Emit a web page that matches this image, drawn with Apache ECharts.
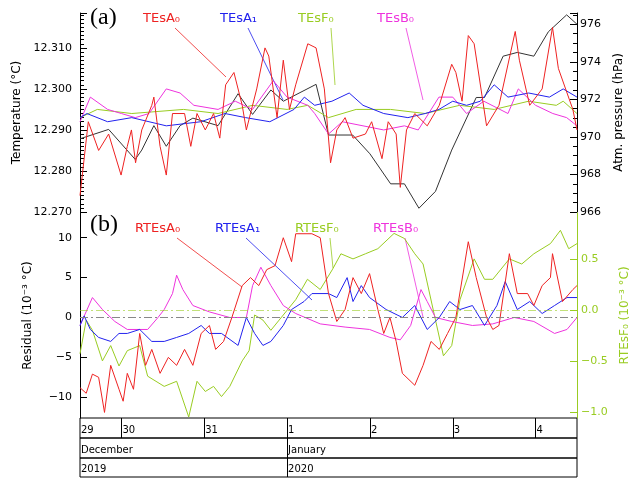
<!DOCTYPE html>
<html>
<head>
<meta charset="utf-8">
<script src="https://cdn.jsdelivr.net/npm/echarts@6/dist/echarts.min.js"></script>
<style>html,body{margin:0;padding:0;background:#fff}#main{width:644px;height:480px}</style>
</head>
<body>
<div id="main"></div>
<script>
// time in hours from 29 Dec 2019 12:00
const dayTicks = [12, 36, 60, 84, 108, 132];
const dayLabels = ['30', '31', '1', '2', '3', '4'];
const monthTicks = [0, 60];
const monthLabels = ['December', 'January'];
const yearLabels = ['2019', '2020'];

// panel (a), temperature (°C)
const tesA0 = [[0,12.274],[2.4,12.292],[5.4,12.285],[8.3,12.289],[11.9,12.279],[13.7,12.286],[14.9,12.290],[16.1,12.282],[17.9,12.290],[20.8,12.296],[21.4,12.298],[23.2,12.286],[25,12.279],[26.8,12.294],[30.3,12.294],[32.1,12.286],[33.9,12.294],[36.3,12.290],[38.7,12.294],[40.5,12.288],[42.2,12.301],[44.6,12.304],[47,12.296],[48.2,12.290],[51.2,12.300],[53.6,12.310],[54.7,12.308],[57.1,12.293],[58.9,12.307],[60.7,12.295],[62.5,12.301],[66,12.311],[68.4,12.310],[70.8,12.300],[72.6,12.282],[74.4,12.290],[76.8,12.293],[79.1,12.288],[82.7,12.289],[84.5,12.292],[87.5,12.283],[89.3,12.292],[91.6,12.289],[92.8,12.276],[94.6,12.290],[97,12.294],[100.6,12.291],[104.1,12.296],[107.7,12.306],[108.9,12.304],[110.7,12.297],[112.5,12.313],[114.2,12.311],[117.8,12.291],[121.4,12.296],[126.1,12.314],[127.3,12.307],[130.3,12.296],[133.9,12.300],[136.9,12.315],[138.6,12.305],[142.8,12.295],[144,12.290]];
const tesA1 = [[0,12.293],[2,12.294],[8,12.292],[15,12.293],[25,12.291],[35,12.292],[42,12.294],[48,12.293],[55,12.292],[62,12.295],[65,12.298],[68,12.296],[73,12.297],[78,12.299],[82,12.296],[88,12.294],[95,12.293],[100,12.294],[104,12.295],[108,12.297],[112,12.296],[116,12.297],[120,12.301],[124,12.298],[130,12.299],[136,12.298],[140,12.300],[144,12.298]];
const tesF0 = [[0,12.293],[5,12.295],[15,12.294],[30,12.295],[40,12.294],[50,12.296],[60,12.295],[66,12.296],[72,12.293],[80,12.295],[90,12.295],[100,12.294],[110,12.296],[120,12.295],[130,12.297],[138,12.296],[140,12.297],[144,12.294]];
const tesB0 = [[0,12.292],[3,12.298],[8,12.295],[12,12.294],[16,12.293],[20,12.294],[25,12.300],[29,12.299],[33,12.296],[40,12.295],[45,12.297],[50,12.295],[56,12.302],[60,12.298],[66,12.296],[68,12.294],[72,12.289],[76,12.292],[82,12.291],[88,12.290],[94,12.291],[98,12.290],[104,12.298],[108,12.298],[112,12.294],[117,12.297],[124,12.294],[127,12.300],[132,12.296],[137,12.294],[141,12.293],[144,12.291]];
// atmospheric pressure (hPa)
const pressure = [[0,969.9],[8.3,970.4],[16,968.8],[17.9,969.3],[21.4,970.6],[25,969.5],[29,970.6],[32.7,971.0],[40,970.6],[45.8,972.3],[50,971.2],[55.3,972.5],[58.9,971.9],[68.4,972.8],[72,970.1],[79,970.1],[84,969.1],[90,967.5],[94,967.5],[98.2,966.2],[103,967.1],[107.7,969.3],[114.8,972.1],[117.2,972.1],[122.6,974.3],[126.7,974.5],[131.5,974.3],[135.7,975.6],[141,976.5],[144,976.0]];

// panel (b), residuals (10^-3 °C)
const rtesA0 = [[0,-8.8],[1.8,-9.5],[3.6,-7.1],[5.4,-7.5],[7.1,-11.9],[8.9,-6],[11.3,-9],[12.5,-10.5],[13.7,-7],[15.5,-9],[17.3,-2],[19,-6],[20.8,-4],[23.2,-7],[25.6,-5],[28,-6],[30.3,-4],[32.7,-6],[35.1,-2],[37.5,-1],[39.3,-4],[41.6,-3],[44,0],[47,4],[49.4,5],[51.8,4],[54.1,6],[56.5,6.5],[58.9,10],[61.3,7],[62.5,10.5],[67.2,10.5],[69.6,10],[72,3],[74.4,-0.5],[76.8,1],[79.1,5],[81.5,3],[83.9,5.5],[86.3,1],[88,-2],[89.8,0],[91.6,-3],[93.4,-7],[97,-8.5],[99.4,-6],[101.7,-3],[104.1,-4],[106.5,-2],[108.9,0],[112.5,9.5],[114.8,5],[117.8,0],[119.6,-1.5],[121.4,-1],[124.4,8],[126.7,3],[129.7,3],[131.5,1.5],[133.9,4],[136.3,5],[136.9,8],[139.8,2],[142.8,3.5],[144,4]];
const rtesA1 = [[0,-1],[1.2,0.2],[3,-1.5],[5.4,-2.5],[8.9,-3],[11.3,-2],[13.7,-2],[17.3,-1.5],[20.8,-3],[24.4,-3],[28,-2.5],[31.5,-2],[35.1,-1],[37.5,-2],[41,-2],[45.8,-3.5],[48.2,0],[50.6,-2],[53,-3.5],[55.3,-3],[58.9,-1],[61.3,1],[64.9,2],[67.2,3],[72,3],[74.4,2.5],[77.4,5],[79.1,2],[81.5,4],[83.9,2.5],[88.7,1],[93.4,0],[97,1.5],[100.6,-1.5],[104.1,0],[107.1,2],[110.1,1],[113.7,1.5],[117.2,-1],[120.8,1.5],[123.2,4.5],[126.7,1],[130.3,2],[133.9,0.5],[137.5,1.5],[141.1,2.5],[144,2.5]];
const rtesB0 = [[0,-1],[3.6,2.5],[6.5,1],[10.1,-0.5],[13.7,-1.5],[19.6,-1.5],[22.6,0],[24.4,1],[26.8,3],[28,5.3],[29.8,3.5],[32.7,1.5],[37.5,0.7],[43.4,0],[48.2,0],[50,4],[52.4,6.3],[55.3,4],[58.9,1.5],[62.5,0.5],[69.6,-0.8],[76.8,-1.2],[83.9,-1.5],[89.8,-2.5],[92.8,-2.8],[95.8,-1],[98.8,3.5],[100.6,2],[103,0],[107.7,-0.5],[113.7,-1],[119.6,-0.8],[125.8,0],[131.5,-0.5],[137.5,-2],[141.1,-1.5],[144,0]];
const rtesF0 = [[0,-0.43],[1.8,-0.1],[3.6,-0.2],[6.5,-0.5],[8.9,-0.35],[11.3,-0.55],[13.7,-0.4],[17.3,-0.35],[19.6,-0.65],[24.4,-0.75],[28,-0.7],[31.5,-1.05],[33.9,-0.7],[36.3,-0.8],[38.7,-0.75],[41,-0.85],[43.4,-0.75],[47,-0.5],[49,-0.4],[50.6,-0.05],[53,-0.1],[55.3,-0.2],[57.7,-0.1],[60.1,0],[62.5,0.1],[65.9,0.3],[69.6,0.2],[73.2,0.4],[75.6,0.55],[79.1,0.5],[82.7,0.55],[86.3,0.6],[91,0.75],[94,0.7],[97,0.55],[99.4,0.45],[103,-0.1],[105.3,-0.45],[107.7,-0.35],[110.1,0.1],[114.2,0.5],[117.2,0.3],[119.6,0.3],[124.4,0.5],[128,0.45],[131.5,0.55],[136.3,0.65],[139.2,0.78],[141.6,0.6],[144,0.65]];

const RED = '#ee2222', BLUE = '#2222ee', GREEN = '#99cc22', MAG = '#ee33dd', GRAY = '#333';
const txt = {color: '#000', fontFamily: 'DejaVu Sans', fontSize: 11};

function hiddenX(i) {
  return {type: 'value', gridIndex: i, min: 0, max: 144, show: true,
    axisLine: {show: false}, axisTick: {show: false}, axisLabel: {show: false}, splitLine: {show: false}};
}
function rowX(i, ticks, values, labels) {
  return {type: 'value', gridIndex: i, min: 0, max: 144, position: 'bottom',
    axisLine: {show: false}, splitLine: {show: false},
    axisTick: {show: true, inside: true, length: 20, customValues: ticks, lineStyle: {color: '#000'}},
    axisLabel: {show: true, inside: true, margin: 3, align: 'left', verticalAlign: 'bottom', padding: [0, 0, 0, 1],
      customValues: values, formatter: v => labels[values.indexOf(v)], ...txt, fontSize: 10}};
}
const lineS = (name, x, y, data, color, w) => ({name, type: 'line', xAxisIndex: x, yAxisIndex: y, data,
  showSymbol: false, lineStyle: {color, width: w || 1}, itemStyle: {color}, z: 3});

const chart = echarts.init(document.getElementById('main'));
chart.setOption({
  animation: false,
  grid: [
    {left: 80, right: 67, top: 13, height: 199},
    {left: 80, right: 67, top: 213, height: 205},
    {left: 80, right: 67, top: 418, height: 20, show: true, borderColor: '#000', borderWidth: 1},
    {left: 80, right: 67, top: 438, height: 20, show: true, borderColor: '#000', borderWidth: 1},
    {left: 80, right: 67, top: 458, height: 19, show: true, borderColor: '#000', borderWidth: 1}
  ],
  xAxis: [hiddenX(0), hiddenX(1),
    rowX(2, dayTicks, [0].concat(dayTicks), ['29'].concat(dayLabels)),
    rowX(3, [60], monthTicks, monthLabels),
    rowX(4, [60], monthTicks, yearLabels)],
  yAxis: [
    {type: 'value', gridIndex: 0, min: 12.270, max: 12.3185, interval: 0.01,
      name: 'Temperature (°C)', nameLocation: 'middle', nameGap: 52, nameTextStyle: {...txt, fontSize: 12},
      axisLine: {show: true, lineStyle: {color: '#000'}}, axisTick: {inside: true, length: 7, lineStyle: {color: '#000'}},
      minorTick: {show: true, splitNumber: 10, length: 4, lineStyle: {color: '#000'}},
      axisLabel: {...txt, showMaxLabel: false, formatter: v => v.toFixed(3)}, splitLine: {show: false}},
    {type: 'value', gridIndex: 0, min: 966, max: 976.6, interval: 2, position: 'right',
      name: 'Atm. pressure (hPa)', nameLocation: 'middle', nameGap: 36, nameRotate: 90, nameTextStyle: {...txt, fontSize: 12},
      axisLine: {show: true, lineStyle: {color: '#000'}}, axisTick: {inside: true, length: 7, lineStyle: {color: '#000'}},
      minorTick: {show: true, splitNumber: 4, length: 4, lineStyle: {color: '#000'}},
      axisLabel: {...txt, margin: 3, showMaxLabel: false}, splitLine: {show: false}},
    {type: 'value', gridIndex: 1, min: -12.6, max: 13.1,
      name: 'Residual (10⁻³ °C)', nameLocation: 'middle', nameGap: 46, nameTextStyle: {...txt, fontSize: 12},
      axisLine: {show: true, lineStyle: {color: '#000'}},
      axisTick: {inside: true, length: 7, customValues: [-10, -5, 0, 5, 10], lineStyle: {color: '#000'}},
      axisLabel: {...txt, customValues: [-10, -5, 0, 5, 10], formatter: v => v < 0 ? '\u2212' + (-v) : '' + v},
      splitLine: {show: false}},
    {type: 'value', gridIndex: 1, min: -1.06, max: 0.95, position: 'right',
      name: 'RTEsF₀ (10⁻³ °C)', nameLocation: 'middle', nameGap: 40, nameRotate: 90, nameTextStyle: {...txt, fontSize: 12, color: GREEN},
      axisLine: {show: true, lineStyle: {color: GREEN}},
      axisTick: {inside: true, length: 7, customValues: [-1, -0.5, 0, 0.5], lineStyle: {color: GREEN}},
      axisLabel: {...txt, color: GREEN, margin: 4, customValues: [-1, -0.5, 0, 0.5], formatter: v => (v < 0 ? '\u2212' : '') + Math.abs(v).toFixed(1)},
      splitLine: {show: false}},
    {type: 'value', gridIndex: 2, show: false, min: 0, max: 1},
    {type: 'value', gridIndex: 3, show: false, min: 0, max: 1},
    {type: 'value', gridIndex: 4, show: false, min: 0, max: 1}
  ],
  series: [
    lineS('pressure', 0, 1, pressure, GRAY),
    lineS('TEsF0', 0, 0, tesF0, GREEN),
    lineS('TEsB0', 0, 0, tesB0, MAG),
    lineS('TEsA1', 0, 0, tesA1, BLUE),
    lineS('TEsA0', 0, 0, tesA0, RED),
    Object.assign(lineS('RTEsF0', 1, 3, rtesF0, GREEN), {
      markLine: {silent: true, symbol: 'none', label: {show: false},
        lineStyle: {color: GREEN, type: [8, 3, 2, 3], width: 1, opacity: 0.6}, data: [{yAxis: 0}]}}),
    Object.assign(lineS('RTEsB0', 1, 2, rtesB0, MAG), {
      markLine: {silent: true, symbol: 'none', label: {show: false},
        lineStyle: {color: '#888', type: [8, 3, 2, 3], width: 1}, data: [{yAxis: 0}]}}),
    lineS('RTEsA1', 1, 2, rtesA1, BLUE),
    lineS('RTEsA0', 1, 2, rtesA0, RED)
  ],
  graphic: [
    {type: 'text', left: 90, top: 6, style: {text: '(a)', font: '24px "Liberation Serif"', fill: '#000'}},
    {type: 'text', left: 90, top: 213, style: {text: '(b)', font: '24px "Liberation Serif"', fill: '#000'}},
    {type: 'text', left: 143, top: 12, style: {text: 'TEsA₀', font: '13px "DejaVu Sans"', fill: RED}},
    {type: 'text', left: 220, top: 12, style: {text: 'TEsA₁', font: '13px "DejaVu Sans"', fill: BLUE}},
    {type: 'text', left: 298, top: 12, style: {text: 'TEsF₀', font: '13px "DejaVu Sans"', fill: GREEN}},
    {type: 'text', left: 377, top: 12, style: {text: 'TEsB₀', font: '13px "DejaVu Sans"', fill: MAG}},
    {type: 'text', left: 135, top: 222, style: {text: 'RTEsA₀', font: '13px "DejaVu Sans"', fill: RED}},
    {type: 'text', left: 215, top: 222, style: {text: 'RTEsA₁', font: '13px "DejaVu Sans"', fill: BLUE}},
    {type: 'text', left: 295, top: 222, style: {text: 'RTEsF₀', font: '13px "DejaVu Sans"', fill: GREEN}},
    {type: 'text', left: 373, top: 222, style: {text: 'RTEsB₀', font: '13px "DejaVu Sans"', fill: MAG}},
    {type: 'line', shape: {x1: 175, y1: 28, x2: 226, y2: 77}, style: {stroke: RED, lineWidth: 0.8}},
    {type: 'line', shape: {x1: 248, y1: 28, x2: 283, y2: 100}, style: {stroke: BLUE, lineWidth: 0.8}},
    {type: 'line', shape: {x1: 331, y1: 28, x2: 335, y2: 85}, style: {stroke: GREEN, lineWidth: 0.8}},
    {type: 'line', shape: {x1: 406, y1: 28, x2: 423, y2: 100}, style: {stroke: MAG, lineWidth: 0.8}},
    {type: 'line', shape: {x1: 177, y1: 238, x2: 242, y2: 287}, style: {stroke: RED, lineWidth: 0.8}},
    {type: 'line', shape: {x1: 246, y1: 238, x2: 312, y2: 300}, style: {stroke: BLUE, lineWidth: 0.8}},
    {type: 'line', shape: {x1: 330, y1: 238, x2: 333, y2: 268}, style: {stroke: GREEN, lineWidth: 0.8}},
    {type: 'line', shape: {x1: 405, y1: 238, x2: 423, y2: 317}, style: {stroke: MAG, lineWidth: 0.8}}
  ]
});
</script>
</body>
</html>
